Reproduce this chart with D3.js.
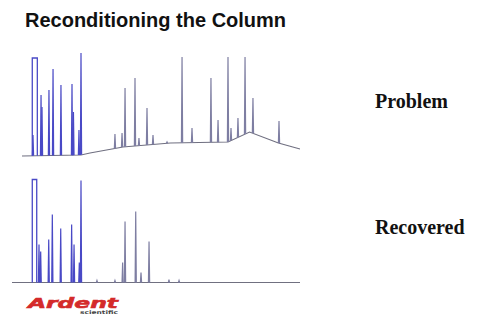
<!DOCTYPE html>
<html>
<head>
<meta charset="utf-8">
<script src="https://cdn.jsdelivr.net/npm/d3@7"></script>
<style>
  body { margin: 0; background: #fff; }
  svg { display: block; }
</style>
</head>
<body>
<div id="chart"></div>
<script>
// retention time (min) and detector signal
var topBaseTimes  = [0.83, 5.75, 6.5, 9.25, 13.2, 18.0, 19.8, 22.2, 24.0];
var topBaseValues = [0, 1, 3, 9, 13, 14, 24, 13, 7];
var topPeakTimes  = [1.75, 2.42, 2.5, 3.08, 3.42, 4.08, 5.0, 5.12, 5.58, 5.75,
                     8.58, 9.17, 9.42, 10.25, 10.58, 11.25, 11.75, 12.92, 14.17, 15.0,
                     16.58, 17.17, 18.0, 18.25, 18.83, 19.42, 20.08, 22.25];
var topPeakValues = [21, 61, 49, 66, 87, 71, 72, 44, 26, 103,
                     22, 23, 68, 78, 18, 48, 21, 14, 99, 28,
                     78, 36, 99, 28, 38, 99, 58, 35];
var topSaturated  = [1.69, 2.11, 98];   // start, end, level of the clipped solvent peak

var botBaseTimes  = [0, 24];
var botBaseValues = [0, 0];
var botPeakTimes  = [2.25, 2.39, 3.06, 3.36, 4.06, 4.97, 5.17, 5.61, 5.75,
                     7.08, 8.58, 9.22, 9.42, 10.31, 10.75, 11.42, 13.08, 13.92];
var botPeakValues = [38, 31, 43, 68, 54, 58, 38, 20, 102,
                     2, 2, 20, 61, 71, 10, 41, 3, 2];
var botSaturated  = [1.69, 2.06, 103];

var width = 477, height = 320;
var svg = d3.select('#chart').append('svg')
      .attr('width', width)
      .attr('height', height);

//soft edge like the scanned slide
svg.append('defs').append('filter')
      .attr('id', 'soft')
      .append('feGaussianBlur')
      .attr('stdDeviation', 0.35);

var x = d3.scaleLinear().domain([0, 24]).range([12, 300]);
var yTop = d3.scaleLinear().domain([0, 105]).range([156, 51]);
var yBot = d3.scaleLinear().domain([0, 105]).range([282.5, 177.5]);
//early peaks blue, later ones greyish
var peakColor = d3.scaleThreshold().domain([6.5]).range(['#4a4ac6', '#7e7ea2']);
var halfWidth = 0.05;

function drawTrace(baseT, baseV, peakT, peakV, sat, y) {
      var base = d3.scaleLinear().domain(baseT).range(baseV).clamp(true);
      var line = d3.line().x(function (d) { return x(d[0]); }).y(function (d) { return y(d[1]); });
      var g = svg.append('g').attr('filter', 'url(#soft)');
      //baseline
      g.append('path')
            .attr('d', line(baseT.map(function (t, i) { return [t, baseV[i]]; })))
            .attr('fill', 'none')
            .attr('stroke', '#6f6f80')
            .attr('stroke-width', 1.1);
      //clipped peak
      g.append('path')
            .attr('d', line([[sat[0], base(sat[0])], [sat[0], sat[2]], [sat[1], sat[2]], [sat[1], base(sat[1])]]))
            .attr('fill', 'none')
            .attr('stroke', peakColor(sat[0]))
            .attr('stroke-width', 1.3);
      //the rest of the peaks
      g.selectAll('path.peak')
            .data(peakT.map(function (t, i) { return { t: t, v: peakV[i] }; }))
            .enter().append('path')
            .attr('class', 'peak')
            .attr('d', function (d) {
                  return line([[d.t - halfWidth, base(d.t - halfWidth)], [d.t, d.v], [d.t + halfWidth, base(d.t + halfWidth)]]);
            })
            .attr('fill', 'none')
            .attr('stroke', function (d) { return peakColor(d.t); })
            .attr('stroke-width', 1.2);
}

drawTrace(topBaseTimes, topBaseValues, topPeakTimes, topPeakValues, topSaturated, yTop);
drawTrace(botBaseTimes, botBaseValues, botPeakTimes, botPeakValues, botSaturated, yBot);

svg.append('text')
      .attr('x', 25).attr('y', 26.5)
      .style('font-family', '"Liberation Sans", Arial, sans-serif')
      .style('font-weight', 'bold')
      .style('font-size', '20px')
      .style('fill', '#111')
      .text('Reconditioning the Column');

svg.selectAll('text.label')
      .data([['Problem', 108], ['Recovered', 234]])
      .enter().append('text')
      .attr('class', 'label')
      .attr('x', 375).attr('y', function (d) { return d[1]; })
      .style('font-family', '"Liberation Serif", "Times New Roman", serif')
      .style('font-weight', 'bold')
      .style('font-size', '20px')
      .style('fill', '#111')
      .text(function (d) { return d[0]; });

//logo
svg.append('text')
      .attr('x', 28).attr('y', 308)
      .attr('textLength', 90)
      .attr('lengthAdjust', 'spacingAndGlyphs')
      .style('font-family', '"DejaVu Sans", sans-serif')
      .style('font-weight', 'bold')
      .style('font-style', 'italic')
      .style('font-size', '14.5px')
      .style('stroke', '#d42a2a')
      .style('stroke-width', 0.6)
      .style('fill', '#d42a2a')
      .text('Ardent');
svg.append('text')
      .attr('x', 80).attr('y', 313.5)
      .attr('textLength', 38)
      .attr('lengthAdjust', 'spacingAndGlyphs')
      .style('font-family', '"DejaVu Sans", sans-serif')
      .style('font-weight', 'bold')
      .style('font-size', '5px')
      .style('fill', '#444')
      .text('scientific');
</script>
</body>
</html>
